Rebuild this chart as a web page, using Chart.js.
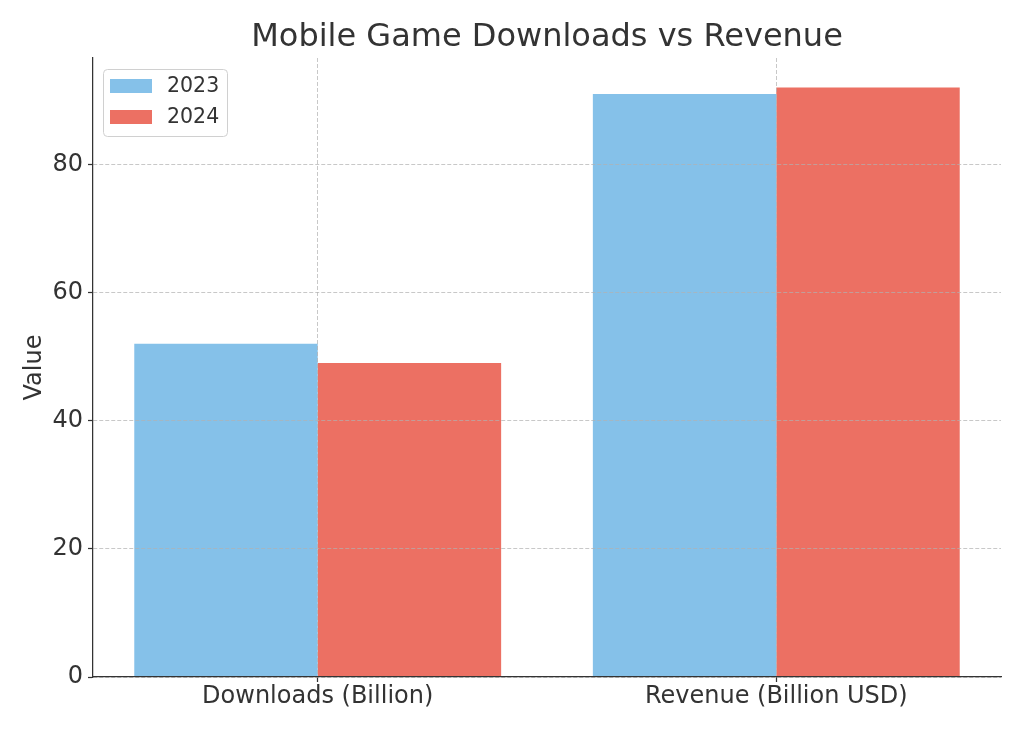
<!DOCTYPE html>
<html>
<head>
<meta charset="utf-8">
<title>Mobile Game Downloads vs Revenue</title>
<script src="https://cdn.jsdelivr.net/npm/chart.js@4.4.1/dist/chart.umd.min.js"></script>
<style>
  body { margin: 0; background: #fff; }
  #wrap { width: 1024px; height: 731px; }
</style>
</head>
<body>
<div id="wrap"><canvas id="chart" width="1024" height="731"></canvas></div>
<script>
// Data
const categories = ["Downloads (Billion)", "Revenue (Billion USD)"];
const years = ["2023", "2024"];
const values2023 = [52, 91];
const values2024 = [49, 92];
const yTicks = [0, 20, 40, 60, 80];

const colors = ["#85C1E9", "#EC7063"];
const textColor = "#333333";
const font = "DejaVu Sans";

// turn a series into {x, y} points on the numeric x axis
function toPoints(values) {
  return values.map((v, i) => ({ x: i, y: v }));
}

// Legend drawn inside the plot, top left, with a rounded box
const insideLegend = {
  id: "insideLegend",
  afterDraw(chart) {
    const ctx = chart.ctx;
    const area = chart.chartArea;
    const x = area.left + 10;
    const y = area.top + 11;
    const w = 124;
    const h = 67;

    ctx.save();
    ctx.beginPath();
    ctx.roundRect(x + 0.5, y + 0.5, w, h, 4);
    ctx.fillStyle = "rgba(255,255,255,0.8)";
    ctx.fill();
    ctx.strokeStyle = "#d0d0d0";
    ctx.lineWidth = 1;
    ctx.stroke();

    ctx.font = "20.5px '" + font + "'";
    ctx.textBaseline = "middle";
    ctx.textAlign = "left";
    chart.data.datasets.forEach((ds, i) => {
      const cy = y + 17 + i * 31;
      ctx.fillStyle = ds.backgroundColor;
      ctx.fillRect(x + 7, cy - 7, 42, 14);
      ctx.fillStyle = textColor;
      ctx.fillText(ds.label, x + 64, cy + 1);
    });
    ctx.restore();
  }
};

const ctx = document.getElementById("chart");

new Chart(ctx, {
  type: "bar",
  data: {
    datasets: [
      { label: years[0], data: toPoints(values2023), backgroundColor: colors[0] },
      { label: years[1], data: toPoints(values2024), backgroundColor: colors[1] }
    ]
  },
  options: {
    responsive: false,
    animation: false,
    layout: { padding: { top: 0, left: 0, right: 23, bottom: 0 } },
    datasets: {
      bar: { categoryPercentage: 0.8, barPercentage: 1.0, borderWidth: 0 }
    },
    plugins: {
      legend: { display: false },
      tooltip: { enabled: false },
      title: {
        display: true,
        fullSize: false,
        text: "Mobile Game Downloads vs Revenue",
        color: textColor,
        font: { family: font, size: 32, weight: "normal" },
        padding: { top: 18, bottom: 1.6 }
      }
    },
    scales: {
      x: {
        type: "linear",
        min: -0.49,
        max: 1.49,
        offset: false,
        afterBuildTicks: (scale) => {
          scale.ticks = categories.map((c, i) => ({ value: i }));
        },
        afterFit: (scale) => { scale.height = 54; },
        ticks: {
          callback: (v) => categories[v],
          color: textColor,
          font: { family: font, size: 24 },
          padding: 0,
          maxRotation: 0,
          autoSkip: false
        },
        grid: {
          z: 1,
          offset: false,
          color: "rgba(176,176,176,0.7)",
          lineWidth: 1,
          tickLength: 5,
          tickColor: textColor,
          tickWidth: 1.25,
          tickBorderDash: []
        },
        border: { z: 2, color: textColor, width: 1.25, dash: [4, 2] }
      },
      y: {
        min: 0,
        max: 96.6,
        afterBuildTicks: (scale) => {
          scale.ticks = yTicks.map((v) => ({ value: v }));
        },
        afterFit: (scale) => { scale.width = 93; },
        ticks: {
          color: textColor,
          font: { family: font, size: 24 },
          padding: 5
        },
        title: {
          display: true,
          text: "Value",
          color: textColor,
          font: { family: font, size: 24 },
          padding: { top: 20, bottom: 0 }
        },
        grid: {
          z: 1,
          color: "rgba(176,176,176,0.7)",
          lineWidth: 1,
          tickLength: 5,
          tickColor: textColor,
          tickWidth: 1.25,
          tickBorderDash: []
        },
        border: { z: 2, color: textColor, width: 1.25, dash: [4, 2] }
      }
    }
  },
  plugins: [insideLegend]
});
</script>
</body>
</html>
